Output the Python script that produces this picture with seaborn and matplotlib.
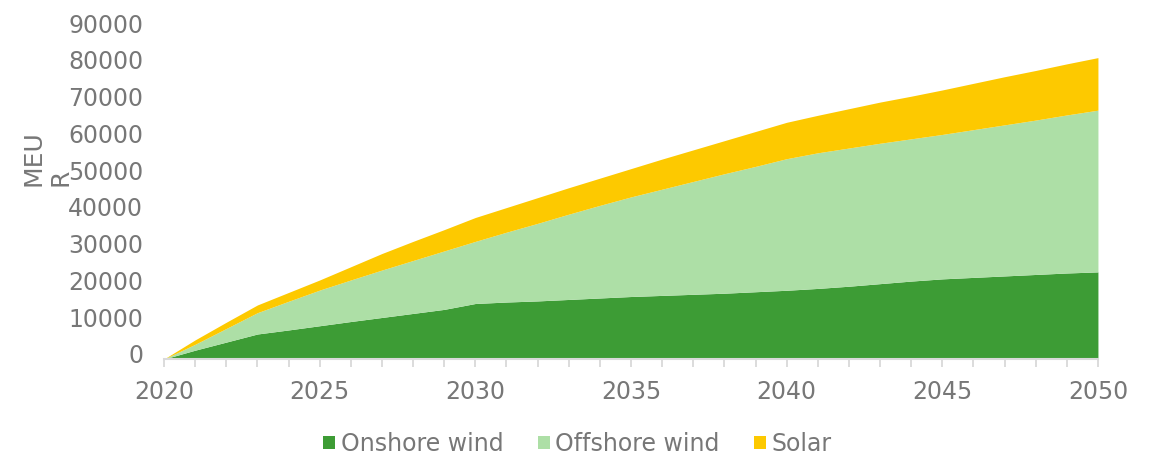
import numpy as np
import pandas as pd
import seaborn as sns
from matplotlib import pyplot as plt
from matplotlib import transforms
from matplotlib.ticker import MultipleLocator

# values (MEUR, stacked)
years = list(range(2020, 2051))
onshore = [0, 2400, 4600, 6800, 7900, 9050, 10200, 11300, 12400, 13500,
           15100, 15500, 15800, 16200, 16600, 17000, 17300, 17600, 17900, 18300,
           18700, 19200, 19800, 20500, 21200, 21800, 22200, 22600, 23000, 23400,
           23700]
offshore = [0, 1600, 3700, 5800, 7800, 9700, 11300, 12900, 14400, 15900,
            16900, 19000, 21100, 23200, 25200, 27100, 28900, 30700, 32500, 34100,
            35800, 36900, 37600, 38200, 38700, 39300, 40200, 41100, 42000, 43000,
            44000]
solar = [0, 1200, 1700, 2100, 2400, 2750, 3600, 4500, 5200, 5800,
         6500, 6700, 7000, 7200, 7400, 7700, 8200, 8600, 9000, 9500,
         9900, 10200, 10700, 11200, 11600, 12100, 12600, 13100, 13500, 13900,
         14300]
series_names = ["Onshore wind", "Offshore wind", "Solar"]
colors = ["#3d9c35", "#addfa6", "#fdc900"]
y_label = "MEU\nR"

text_gray = "#777777"


def main():
    df = pd.DataFrame({"year": years, series_names[0]: onshore,
                       series_names[1]: offshore, series_names[2]: solar})

    sns.set_theme(style="white")
    plt.rcParams['font.family'] = ['DejaVu Sans']

    fig = plt.figure(figsize=(11.55, 4.55), dpi=100)
    ax = fig.add_axes([0.142, 0.211, 0.8086, 0.727])

    ax.stackplot(df["year"], [df[n] for n in series_names],
                 labels=series_names, colors=colors, linewidth=0)

    ax.set_xlim(2020, 2050)
    ax.set_ylim(0, 90000)
    ax.xaxis.set_major_locator(MultipleLocator(5))
    ax.xaxis.set_minor_locator(MultipleLocator(1))
    ax.yaxis.set_major_locator(MultipleLocator(10000))

    sns.despine(ax=ax, left=True, top=True, right=True)
    ax.spines["bottom"].set_color("#d9d9d9")
    ax.spines["bottom"].set_linewidth(1.5)

    ax.tick_params(axis="x", which="both", bottom=True, length=6, width=1.3,
                   color="#d9d9d9", pad=9, labelsize=17, labelcolor=text_gray)
    ax.tick_params(axis="y", length=0, pad=15, labelsize=17, labelcolor=text_gray)
    ax.grid(False)

    # excel puts the value labels a few px higher than the tick value
    shift = transforms.ScaledTranslation(0, 5 / 100, fig.dpi_scale_trans)
    for lab in ax.get_yticklabels():
        lab.set_transform(lab.get_transform() + shift)

    fig.text(0.041, 0.653, y_label, rotation=90, ha="center", va="center",
             multialignment="left", fontsize=18, color=text_gray, linespacing=1.15)

    leg = fig.legend(loc="center", bbox_to_anchor=(0.5, 0.025), ncol=3,
                     frameon=False, fontsize=17, handlelength=0.5,
                     handleheight=0.5, handletextpad=0.25, columnspacing=1.45)
    for t in leg.get_texts():
        t.set_color(text_gray)

    fig.savefig("out.png", dpi=100)
    plt.close(fig)


if __name__ == '__main__':
    main()
